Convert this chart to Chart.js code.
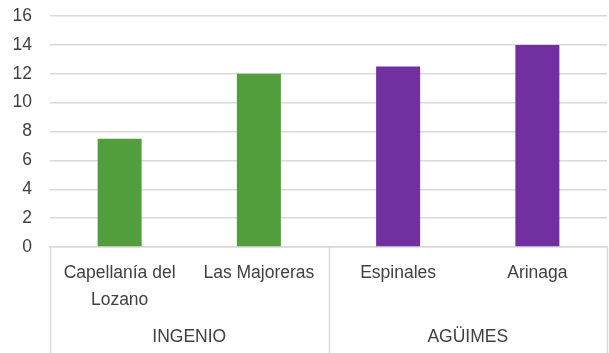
<!DOCTYPE html>
<html>
<head>
<meta charset="utf-8">
<script src="https://cdn.jsdelivr.net/npm/chart.js@4/dist/chart.umd.min.js"></script>
<style>
  html, body { margin: 0; padding: 0; background: #fff; }
  #wrap { width: 609px; height: 353px; }
</style>
</head>
<body>
<div id="wrap"><canvas id="barChart" width="609" height="353"></canvas></div>
<script>
// categories (multi-line label as array) and their groups
const categories = [['Capellanía del', 'Lozano'], 'Las Majoreras', 'Espinales', 'Arinaga'];
const groups = ['INGENIO', 'AGÜIMES'];
const groupSizes = [2, 2];
const groupColors = ['#539e3c', '#7030a0'];
const values = [7.5, 12, 12.5, 14];
const yTicks = [0, 2, 4, 6, 8, 10, 12, 14, 16];

const fontFamily = "'Liberation Sans Narrow', 'Arial Narrow', 'Liberation Sans', sans-serif";
const fontSize = 17.5;
const textColor = '#404040';
const lineColor = '#d9d9d9';

// one colour per bar, taken from its group
const barColors = [];
groupSizes.forEach((n, g) => { for (let i = 0; i < n; i++) barColors.push(groupColors[g]); });

// draws the group row under the category labels plus the separator lines
const groupAxis = {
    id: 'groupAxis',
    afterDraw(chart) {
        const { ctx, chartArea, scales: { x } } = chart;
        const bottom = chart.height;
        const step = (x.right - x.left) / categories.length;
        ctx.save();
        ctx.strokeStyle = lineColor;
        ctx.lineWidth = 1.5;
        let start = 0;
        const edges = [x.left];
        groupSizes.forEach((n, g) => {
            const from = x.getPixelForValue(start) - step / 2;
            const to = x.getPixelForValue(start + n - 1) + step / 2;
            edges.push(to);
            ctx.fillStyle = textColor;
            ctx.font = fontSize + 'px ' + fontFamily;
            ctx.textAlign = 'center';
            ctx.textBaseline = 'middle';
            ctx.fillText(groups[g], (from + to) / 2, x.bottom + 23.5);
            start += n;
        });
        edges.forEach(px => {
            ctx.beginPath();
            ctx.moveTo(Math.round(px) + 0.5, chartArea.bottom);
            ctx.lineTo(Math.round(px) + 0.5, bottom);
            ctx.stroke();
        });
        ctx.restore();
    }
};

const ctx = document.getElementById('barChart').getContext('2d');
new Chart(ctx, {
    type: 'bar',
    data: {
        labels: categories,
        datasets: [{
            data: values,
            backgroundColor: barColors,
            borderWidth: 0,
            categoryPercentage: 1,
            barPercentage: 0.316
        }]
    },
    options: {
        responsive: false,
        animation: false,
        layout: { padding: { top: 16, left: 13, right: 2, bottom: 39.5 } },
        plugins: {
            legend: { display: false },
            tooltip: { enabled: false }
        },
        scales: {
            x: {
                grid: { display: false, drawTicks: false },
                border: { display: true, color: lineColor, width: 1.5 },
                ticks: {
                    color: textColor,
                    font: { family: fontFamily, size: fontSize, lineHeight: 1.54 },
                    padding: 12.5,
                    maxRotation: 0,
                    autoSkip: false
                },
                afterFit: axis => { axis.height = 66.5; axis.paddingLeft = 0; axis.paddingRight = 0; }
            },
            y: {
                min: yTicks[0],
                max: yTicks[yTicks.length - 1],
                afterBuildTicks: axis => { axis.ticks = yTicks.map(v => ({ value: v })); },
                afterFit: axis => { axis.width = 37; axis.paddingTop = 0; axis.paddingBottom = 0; },
                grid: { color: lineColor, lineWidth: 1.5, drawTicks: false },
                border: { display: false },
                ticks: {
                    color: textColor,
                    font: { family: fontFamily, size: fontSize },
                    padding: 18,
                    autoSkip: false
                }
            }
        }
    },
    plugins: [groupAxis]
});
</script>
</body>
</html>
